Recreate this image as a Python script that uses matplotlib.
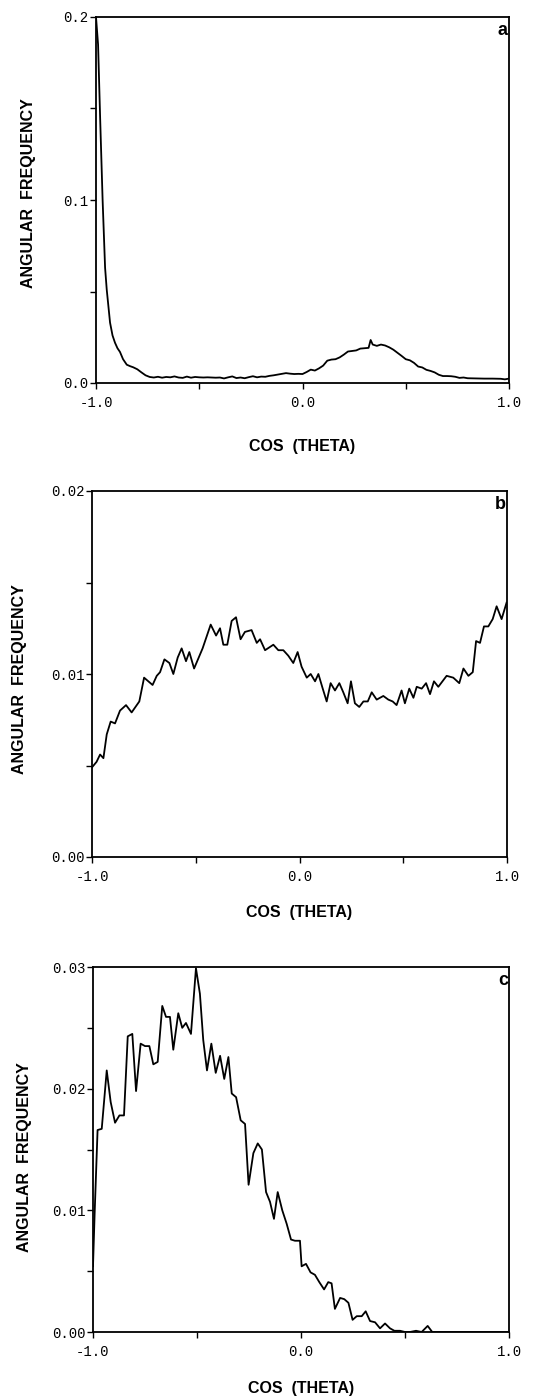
import numpy as np
import matplotlib
matplotlib.use("Agg")
from matplotlib import pyplot as plt
from matplotlib.ticker import MultipleLocator

plt.rcParams['font.family'] = ['Liberation Sans', 'DejaVu Sans']

# panel a
a_x = [-1.0, -0.99, -0.98, -0.968, -0.956, -0.948, -0.932, -0.92, -0.908, -0.896,
       -0.884, -0.869, -0.851, -0.835, -0.82, -0.80, -0.78, -0.76, -0.74, -0.72,
       -0.70, -0.68, -0.66, -0.64, -0.62, -0.60, -0.58, -0.56, -0.54, -0.52,
       -0.50, -0.48, -0.46, -0.44, -0.42, -0.40, -0.38, -0.36, -0.34, -0.32,
       -0.30, -0.28, -0.26, -0.24, -0.22, -0.20, -0.18, -0.16, -0.14, -0.12,
       -0.10, -0.08, -0.06, -0.04, -0.02, 0.0, 0.02, 0.04, 0.06, 0.08,
       0.10, 0.12, 0.14, 0.16, 0.18, 0.20, 0.22, 0.24, 0.26, 0.28,
       0.30, 0.32, 0.33, 0.34, 0.36, 0.38, 0.40, 0.42, 0.44, 0.46,
       0.48, 0.50, 0.52, 0.54, 0.56, 0.58, 0.60, 0.62, 0.64, 0.66,
       0.68, 0.70, 0.72, 0.74, 0.76, 0.78, 0.80, 0.84, 0.88, 0.92,
       0.96, 0.98, 1.0]
a_y = [0.200, 0.185, 0.145, 0.100, 0.063, 0.051, 0.033, 0.026, 0.022, 0.019,
       0.017, 0.013, 0.010, 0.0092, 0.0086, 0.0075, 0.0058, 0.0042, 0.0033, 0.0030,
       0.0034, 0.0029, 0.0033, 0.0031, 0.0036, 0.0030, 0.0028, 0.0035, 0.0029, 0.0033,
       0.0031, 0.0030, 0.0031, 0.0030, 0.0029, 0.0030, 0.0025, 0.0031, 0.0036, 0.0027,
       0.0030, 0.0026, 0.0032, 0.0037, 0.0031, 0.0035, 0.0034, 0.0039, 0.0042, 0.0046,
       0.0050, 0.0054, 0.0051, 0.0049, 0.0050, 0.0049, 0.0060, 0.0073, 0.0068, 0.0080,
       0.0095, 0.0122, 0.0128, 0.0130, 0.0140, 0.0155, 0.0172, 0.0175, 0.0178, 0.0188,
       0.0190, 0.0192, 0.0235, 0.0210, 0.0203, 0.0210, 0.0205, 0.0195, 0.0182, 0.0165,
       0.0148, 0.0130, 0.0124, 0.0110, 0.0090, 0.0085, 0.0072, 0.0066, 0.0058, 0.0045,
       0.0038, 0.0038, 0.0037, 0.0034, 0.0028, 0.0030, 0.0026, 0.0025, 0.0024, 0.0024,
       0.0023, 0.0020, 0.0024]

# panel b
b_x = [-1.0, -0.978, -0.961, -0.945, -0.929, -0.91, -0.889, -0.865, -0.836, -0.809,
       -0.772, -0.749, -0.708, -0.688, -0.672, -0.651, -0.627, -0.608, -0.587, -0.568,
       -0.547, -0.531, -0.508, -0.467, -0.428, -0.402, -0.383, -0.367, -0.348, -0.327,
       -0.306, -0.284, -0.263, -0.231, -0.206, -0.190, -0.166, -0.126, -0.102, -0.078,
       -0.054, -0.030, -0.009, 0.010, 0.035, 0.054, 0.075, 0.091, 0.112, 0.131,
       0.150, 0.171, 0.192, 0.211, 0.232, 0.248, 0.267, 0.288, 0.308, 0.329,
       0.348, 0.372, 0.404, 0.428, 0.449, 0.468, 0.492, 0.508, 0.529, 0.549,
       0.565, 0.589, 0.610, 0.629, 0.648, 0.669, 0.709, 0.741, 0.770, 0.790,
       0.814, 0.835, 0.851, 0.870, 0.889, 0.910, 0.931, 0.950, 0.974, 0.998]
b_y = [0.0049, 0.0052, 0.0056, 0.0054, 0.0067, 0.0074, 0.0073, 0.0080, 0.0083, 0.0079,
       0.0085, 0.0098, 0.0094, 0.0099, 0.0101, 0.0108, 0.0106, 0.0100, 0.0109, 0.0114,
       0.0107, 0.0112, 0.0103, 0.0114, 0.0127, 0.0121, 0.0125, 0.0116, 0.0116, 0.0129,
       0.0131, 0.0119, 0.0123, 0.0124, 0.0117, 0.0119, 0.0113, 0.0116, 0.0113, 0.0113,
       0.0110, 0.0106, 0.0112, 0.0104, 0.0098, 0.0100, 0.0096, 0.0100, 0.0092, 0.0085,
       0.0095, 0.0091, 0.0095, 0.0090, 0.0084, 0.0096, 0.0084, 0.0082, 0.0085, 0.0085,
       0.0090, 0.0086, 0.0088, 0.0086, 0.0085, 0.0083, 0.0091, 0.0084, 0.0092, 0.0087,
       0.0093, 0.0092, 0.0095, 0.0089, 0.0096, 0.0093, 0.0099, 0.0098, 0.0095, 0.0103,
       0.0099, 0.0101, 0.0118, 0.0117, 0.0126, 0.0126, 0.0130, 0.0137, 0.0130, 0.0139]

# panel c
c_x = [-1.0, -0.992, -0.978, -0.958, -0.934, -0.915, -0.894, -0.873, -0.851, -0.833,
       -0.811, -0.793, -0.771, -0.75, -0.729, -0.71, -0.689, -0.667, -0.649, -0.630,
       -0.614, -0.590, -0.571, -0.553, -0.529, -0.505, -0.486, -0.470, -0.452, -0.431,
       -0.410, -0.389, -0.369, -0.349, -0.333, -0.312, -0.290, -0.269, -0.252, -0.229,
       -0.208, -0.188, -0.168, -0.149, -0.130, -0.112, -0.090, -0.069, -0.048, -0.029,
       -0.005, 0.003, 0.024, 0.046, 0.067, 0.088, 0.111, 0.131, 0.147, 0.163,
       0.188, 0.208, 0.228, 0.248, 0.268, 0.292, 0.311, 0.332, 0.356, 0.380,
       0.404, 0.428, 0.449, 0.476, 0.500, 0.524, 0.553, 0.580, 0.609, 0.631,
       0.70, 0.80, 0.90, 1.0]
c_y = [0.0054, 0.0098, 0.0166, 0.0167, 0.0215, 0.0189, 0.0172, 0.0178, 0.0178, 0.0243,
       0.0245, 0.0198, 0.0237, 0.0235, 0.0235, 0.0220, 0.0222, 0.0268, 0.0259, 0.0259,
       0.0232, 0.0262, 0.0250, 0.0254, 0.0245, 0.0299, 0.0278, 0.0240, 0.0215, 0.0237,
       0.0213, 0.0227, 0.0208, 0.0226, 0.0196, 0.0193, 0.0174, 0.0171, 0.0121, 0.0147,
       0.0155, 0.0150, 0.0115, 0.0107, 0.0093, 0.0115, 0.0100, 0.0089, 0.0076, 0.0075,
       0.0075, 0.0054, 0.0056, 0.0049, 0.0047, 0.0041, 0.0035, 0.0041, 0.0040, 0.0019,
       0.0028, 0.0027, 0.0024, 0.0010, 0.0013, 0.0013, 0.0017, 0.0009, 0.0008, 0.0003,
       0.0007, 0.0003, 0.0001, 0.0001, 0.0, 0.0, 0.0001, 0.0, 0.0005, 0.0,
       0.0, 0.0, 0.0, 0.0]

x_labels = ['-1.0', '0.0', '1.0']

panels = [
    (a_x, a_y, 0.2, 0.1, 0.05, ['0.0', '0.1', '0.2'], 'a', [96, 17, 509, 383], 447, 28, 193),
    (b_x, b_y, 0.02, 0.01, 0.005, ['0.00', '0.01', '0.02'], 'b', [92, 491, 507, 857], 913, 20, 679),
    (c_x, c_y, 0.03, 0.01, 0.005, ['0.00', '0.01', '0.02', '0.03'], 'c', [93, 967, 509, 1332], 1388, 25, 1157),
]

W, H = 533, 1398
fig = plt.figure(figsize=(W / 100, H / 100), dpi=100)

for xs, ys, ymax, ymaj, ymin, ylabs, tag, box, xlab_y, ylab_x, ylab_y in panels:
    l, t, r, b = box
    ax = fig.add_axes([l / W, 1 - b / H, (r - l) / W, (b - t) / H])
    ax.plot(xs, ys, color='black', lw=1.3)
    ax.set_xlim(-1, 1)
    ax.set_ylim(0, ymax)
    ax.set_xticks([-1, 0, 1])
    ax.set_xticklabels(x_labels, family='Liberation Mono')
    ax.xaxis.set_minor_locator(MultipleLocator(0.5))
    ax.set_yticks(np.arange(len(ylabs)) * ymaj)
    ax.set_yticklabels(ylabs, family='Liberation Mono')
    ax.yaxis.set_minor_locator(MultipleLocator(ymin))
    ax.tick_params(which='both', direction='out', length=4.5, width=1.0, labelsize=10,
                   colors='black')
    ax.tick_params(axis='x', pad=5)
    ax.tick_params(axis='y', pad=1)
    for s in ax.spines.values():
        s.set_linewidth(1.3)
    ax.text(0.997, 0.985, tag, transform=ax.transAxes, ha='right', va='top',
            fontsize=13, fontweight='bold')
    fig.text((l + r) / 2 / W, 1 - xlab_y / H, 'COS  (THETA)', ha='center', va='center',
             fontsize=11.5, fontweight='bold')
    fig.text(ylab_x / W, 1 - ylab_y / H, 'ANGULAR  FREQUENCY', ha='center', va='center',
             rotation=90, fontsize=11.5, fontweight='bold')

fig.savefig('out.png', dpi=100)
